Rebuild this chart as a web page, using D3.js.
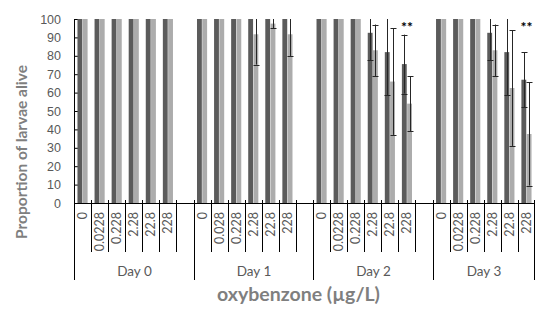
<!DOCTYPE html>
<html>
<head>
<meta charset="utf-8">
<script src="https://cdn.jsdelivr.net/npm/d3@7"></script>
<style>
  body { margin: 0; background: #fff; }
  svg { display: block; font-family: Lato, "Open Sans", sans-serif; }
</style>
</head>
<body>
<div id="chart"></div>
<script>
// ---- data ----
var days = ["Day 0", "Day 1", "Day 2", "Day 3"];
var concLabels = [
  ["0", "0.0228", "0.228", "2.28", "22.8", "228"],
  ["0", "0.028", "0.228", "2.28", "22.8", "228"],
  ["0", "0.0228", "0.228", "2.28", "22.8", "228"],
  ["0", "0.0228", "0.228", "2.28", "22.8", "228"]
];
var darkMeans = [
  [100, 100, 100, 100, 100, 100],
  [100, 100, 100, 100, 100, 100],
  [100, 100, 100, 92.5, 82, 75.5],
  [100, 100, 100, 92.5, 82, 67]
];
var darkErr = [
  [0, 0, 0, 0, 0, 0],
  [0, 0, 0, 0, 0, 0],
  [0, 0, 0, 15, 23.5, 16],
  [0, 0, 0, 15, 23.5, 15]
];
var lightMeans = [
  [100, 100, 100, 100, 100, 100],
  [100, 100, 100, 91.7, 97.5, 91.7],
  [100, 100, 100, 83, 66, 54],
  [100, 100, 100, 83, 62.5, 37.5]
];
var lightErr = [
  [0, 0, 0, 0, 0, 0],
  [0, 0, 0, 16.5, 2.5, 11.8],
  [0, 0, 0, 14, 29, 15],
  [0, 0, 0, 14, 31.5, 28]
];
var stars = [
  ["", "", "", "", "", ""],
  ["", "", "", "", "", ""],
  ["", "", "", "", "", "**"],
  ["", "", "", "", "", "**"]
];
var yTicks = [0, 10, 20, 30, 40, 50, 60, 70, 80, 90, 100];

var width = 550, height = 315;
var margin = {top: 19, right: 15, bottom: 112, left: 74};
var plotBottom = height - margin.bottom;

var svg = d3.select("#chart").append("svg")
  .attr("width", width)
  .attr("height", height);

// one slot per concentration, plus an empty slot after each day but the last
var slots = [];
days.forEach(function(day, di) {
  concLabels[di].forEach(function(c, ci) {
    slots.push({key: di + "-" + ci, day: di, ci: ci, label: c});
  });
  if (di < days.length - 1) slots.push({key: di + "-gap", day: di, ci: -1, label: ""});
});

var x = d3.scaleBand()
  .domain(slots.map(function(s) { return s.key; }))
  .range([margin.left, width - margin.right])
  .padding(0);
var bw = x.bandwidth();

var xSub = d3.scaleBand()
  .domain(["dark", "light"])
  .range([0, bw])
  .paddingInner(0.08)
  .paddingOuter(0.66);

var y = d3.scaleLinear()
  .domain([0, 100])
  .range([plotBottom, margin.top]);

// y axis
var yAxis = svg.append("g")
  .attr("transform", "translate(" + margin.left + ",0)")
  .call(d3.axisLeft(y).tickValues(yTicks).tickSizeInner(-5).tickSizeOuter(0).tickPadding(13));
yAxis.select(".domain").attr("stroke", "#000");
yAxis.selectAll(".tick line").attr("stroke", "#000");
yAxis.selectAll(".tick text")
  .attr("fill", "#595959")
  .style("font-size", "12.5px");

// bars
var barData = [];
slots.forEach(function(s) {
  if (s.ci < 0) return;
  barData.push({slot: s.key, series: "dark", v: darkMeans[s.day][s.ci], e: darkErr[s.day][s.ci]});
  barData.push({slot: s.key, series: "light", v: lightMeans[s.day][s.ci], e: lightErr[s.day][s.ci]});
});
var colors = {dark: "#5b5b5b", light: "#acacac"};

svg.append("g").selectAll("rect")
  .data(barData)
  .enter().append("rect")
    .attr("x", function(d) { return x(d.slot) + xSub(d.series); })
    .attr("width", xSub.bandwidth())
    .attr("y", function(d) { return y(d.v); })
    .attr("height", function(d) { return y(0) - y(d.v); })
    .attr("fill", function(d) { return colors[d.series]; });

// error bars (clipped at the top of the axis like the original)
var eb = svg.append("g").attr("stroke", "#262626").attr("stroke-width", 1);
barData.filter(function(d) { return d.e > 0; }).forEach(function(d) {
  var cx = Math.round(x(d.slot) + xSub(d.series) + xSub.bandwidth() / 2) + 0.5;
  var hi = Math.min(100, d.v + d.e), lo = d.v - d.e;
  eb.append("line").attr("x1", cx).attr("x2", cx).attr("y1", y(hi)).attr("y2", y(lo));
  eb.append("line").attr("x1", cx - 3).attr("x2", cx + 3)
    .attr("y1", Math.round(y(lo)) + 0.5).attr("y2", Math.round(y(lo)) + 0.5);
  if (d.v + d.e < 100) {
    eb.append("line").attr("x1", cx - 3).attr("x2", cx + 3)
      .attr("y1", Math.round(y(hi)) + 0.5).attr("y2", Math.round(y(hi)) + 0.5);
  }
});

// significance marks
svg.append("g").selectAll("text")
  .data(slots.filter(function(s) { return s.ci >= 0 && stars[s.day][s.ci]; }))
  .enter().append("text")
    .attr("x", function(s) { return x(s.key) + bw / 2; })
    .attr("y", 32)
    .attr("text-anchor", "middle")
    .attr("fill", "#000")
    .style("font-size", "14px")
    .style("font-weight", "bold")
    .text(function(s) { return stars[s.day][s.ci]; });

// category axis
var xa = svg.append("g").attr("stroke", "#000").attr("stroke-width", 1);
xa.append("line")
  .attr("x1", margin.left).attr("x2", width - margin.right)
  .attr("y1", plotBottom + 0.5).attr("y2", plotBottom + 0.5);

var groupStarts = [];
slots.forEach(function(s, i) {
  var xb = Math.round(x(s.key)) + 0.5;
  var first = i === 0 || slots[i - 1].day !== s.day;
  if (first) groupStarts.push(xb);
  else xa.append("line").attr("x1", xb).attr("x2", xb).attr("y1", plotBottom - 3).attr("y2", plotBottom + 49);
});
groupStarts.push(Math.round(width - margin.right) - 0.5);
groupStarts.forEach(function(xb) {
  xa.append("line").attr("x1", xb).attr("x2", xb).attr("y1", plotBottom - 3).attr("y2", plotBottom + 77);
});

svg.append("g").selectAll("text")
  .data(slots.filter(function(s) { return s.ci >= 0; }))
  .enter().append("text")
    .attr("transform", function(s) {
      return "translate(" + (x(s.key) + bw / 2 + 4.5) + "," + (plotBottom + 9) + ") rotate(-90)";
    })
    .attr("text-anchor", "end")
    .attr("fill", "#595959")
    .style("font-size", "12.5px")
    .text(function(s) { return s.label; });

svg.append("g").selectAll("text")
  .data(days)
  .enter().append("text")
    .attr("x", function(d, i) { return (groupStarts[i] + groupStarts[i + 1]) / 2; })
    .attr("y", 275.5)
    .attr("text-anchor", "middle")
    .attr("fill", "#595959")
    .style("font-size", "13.5px")
    .text(function(d) { return d; });

// axis titles
svg.append("text")
  .attr("x", 298.5)
  .attr("y", 301)
  .attr("text-anchor", "middle")
  .attr("fill", "#7f7f7f")
  .style("font-size", "19.5px")
  .style("font-weight", "bold")
  .text("oxybenzone (µg/L)");

svg.append("text")
  .attr("transform", "translate(27,152) rotate(-90)")
  .attr("text-anchor", "middle")
  .attr("fill", "#7f7f7f")
  .style("font-size", "15.5px")
  .style("font-weight", "bold")
  .text("Proportion of larvae alive");
</script>
</body>
</html>
